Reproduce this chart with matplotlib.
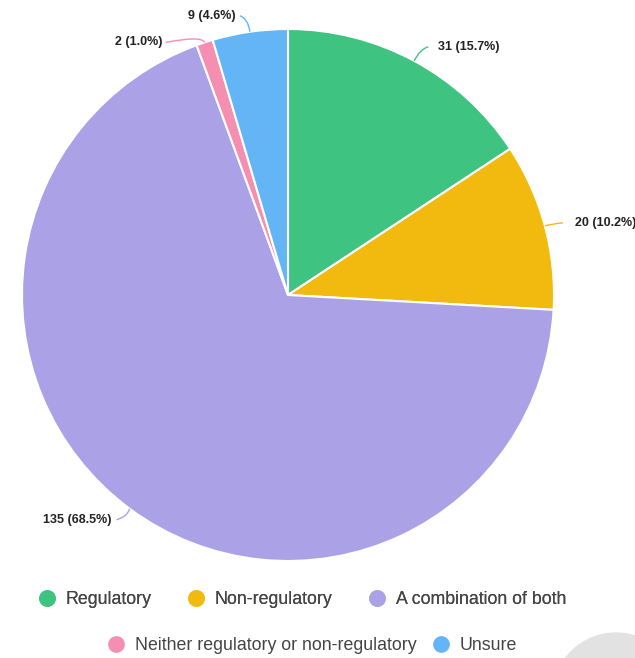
import numpy as np
import matplotlib.pyplot as plt
from matplotlib.lines import Line2D
from matplotlib.path import Path
from matplotlib.patches import PathPatch, Circle

# Survey answers
categories = ['Regulatory', 'Non-regulatory', 'A combination of both',
              'Neither regulatory or non-regulatory', 'Unsure']
counts = [31, 20, 135, 2, 9]
percents = [15.7, 10.2, 68.5, 1.0, 4.6]
colors = ['#3fc380', '#f2b90f', '#aba1e6', '#f48fb1', '#64b5f6']

W, H = 635, 658
fig = plt.figure(figsize=(W / 100, H / 100), dpi=100)
ax = fig.add_axes([0, 0, 1, 1])

cx, cy, r = 288, H - 295, 266
wedges, _ = ax.pie(counts, colors=colors, startangle=90, counterclock=False,
                   center=(cx, cy), radius=r, frame=True,
                   wedgeprops=dict(edgecolor='white', linewidth=1.5))
ax.set_xlim(0, W)
ax.set_ylim(0, H)
ax.set_aspect('equal')
ax.axis('off')

# leader shape: (elbow dx, elbow dy, end dx, end dy, text gap) from wedge edge
leaders = [(6, 12, 14, 14, 10),
           (8, 2, 18, 3, 12),
           (-2, -8, -13, -11, 5),
           (-3, 7, -39, 0, 3),
           (-2, 13, -10, 16, 4)]
for w, n, p, col, ld in zip(wedges, counts, percents, colors, leaders):
    ang = np.deg2rad((w.theta1 + w.theta2) / 2)
    x0, y0 = cx + r * np.cos(ang), cy + r * np.sin(ang)
    ex, ey, tx, ty, gap = ld
    path = Path([(x0, y0), (x0 + ex, y0 + ey), (x0 + tx, y0 + ty)],
                [Path.MOVETO, Path.CURVE3, Path.CURVE3])
    ax.add_patch(PathPatch(path, fill=False, edgecolor=col, lw=1.0))
    ha = 'left' if tx > 0 else 'right'
    ax.text(x0 + tx + (gap if tx > 0 else -gap), y0 + ty, f'{n} ({p:.1f}%)',
            ha=ha, va='center', fontsize=9, fontweight='bold',
            color='#222222', family='Liberation Sans')

# light grey disc in the lower right corner
ax.add_patch(Circle((616, H - 696), 63, color='#e2e2e2', zorder=0))

handles = [Line2D([], [], marker='o', ls='', markersize=11,
                  markerfacecolor=c, markeredgecolor=c) for c in colors]
leg_kw = dict(frameon=False, handletextpad=0.55, handlelength=1.0,
              prop={'family': 'Liberation Sans', 'size': 12.8},
              labelcolor='#444444', borderaxespad=0)
leg1 = fig.legend(handles[:3], categories[:3], ncol=3, loc='center',
                  bbox_to_anchor=(302 / W, 1 - 600 / H), columnspacing=2.0,
                  **leg_kw)
fig.add_artist(leg1)
fig.legend(handles[3:], categories[3:], ncol=2, loc='center',
           bbox_to_anchor=(312 / W, 1 - 646 / H), columnspacing=0.9,
           **leg_kw)

fig.savefig('out.png', dpi=100)
